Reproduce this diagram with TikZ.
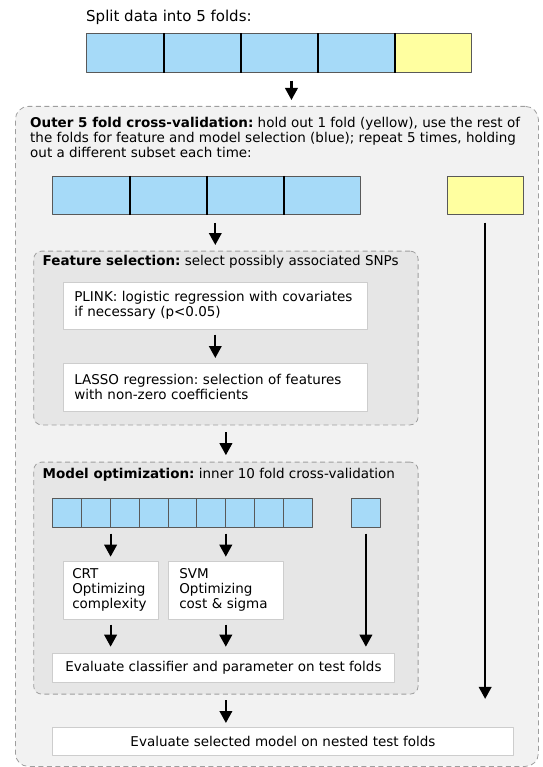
\documentclass[tikz,border=0pt]{standalone}
\usepackage{fontspec}
\setmainfont{DejaVu Sans}
\usetikzlibrary{arrows.meta}
\definecolor{foldblue}{RGB}{166,218,248}
\definecolor{foldyellow}{RGB}{255,255,160}
\definecolor{outerfill}{RGB}{242,242,242}
\definecolor{innerfill}{RGB}{230,230,230}
\definecolor{dashgray}{RGB}{158,158,158}
\definecolor{boxgray}{RGB}{205,205,205}
\tikzset{
  fold/.style={draw=black!65, line width=0.9pt, fill=foldblue, inner sep=0pt, anchor=north west, minimum width=77pt, minimum height=38.3pt},
  divider/.style={draw=black, line width=1.6pt},
  arr/.style={-{Triangle[length=12pt,width=12.5pt]}, line width=2.2pt},
  outerbox/.style={draw=dashgray, fill=outerfill, line width=0.8pt, dash pattern=on 5pt off 3.5pt, rounded corners=13pt, inner sep=0pt, anchor=north west},
  innerbox/.style={outerbox, fill=innerfill, rounded corners=8pt},
  textbox/.style={draw=boxgray, fill=white, line width=0.6pt, anchor=north west, align=left, inner ysep=0pt},
}
\frenchspacing
\begin{document}
\begin{tikzpicture}[x=1pt,y=-1pt, line join=round, font=\fontsize{13.5}{15}\selectfont]
	\useasboundingbox (0,0) rectangle (542,767);
	% containers
	\node[outerbox, minimum width=523pt, minimum height=660pt] (outer) at (15,106) {};
	\node[innerbox, minimum width=384.4pt, minimum height=173.8pt] (feat) at (33.3,250.7) {};
	\node[innerbox, minimum width=384.4pt, minimum height=232pt] (model) at (33.3,461.7) {};
	% titles
	\node (split) at (86,17.5) [anchor=west, inner sep=0pt, font=\fontsize{15}{16}\selectfont] {Split data into 5 folds:};
	\node (outertitle) at (30,137.5) [anchor=west, align=left, inner sep=0pt] {\textbf{Outer 5 fold cross-validation:} hold out 1 fold (yellow), use the rest of\\the folds for feature and model selection (blue); repeat 5 times, holding\\out a different subset each time:};
	\node (feattitle) at (42.5,261.7) [anchor=west, inner sep=0pt] {\textbf{Feature selection:} select possibly associated SNPs};
	\node (modeltitle) at (42.5,475) [anchor=west, inner sep=0pt] {\textbf{Model optimization:} inner 10 fold cross-validation};
	% all data: 5 folds
	\foreach \i in {0,...,3} \node[fold] (top\i) at ({86+77*\i},33.4) {};
	\node[fold, fill=foldyellow] (top4) at (394,33.4) {};
	\foreach \i in {0,...,3} \draw[divider] (top\i.north east) -- (top\i.south east);
	% outer training folds and held-out fold
	\foreach \i in {0,...,3} \node[fold, minimum height=38pt] (mid\i) at ({52.3+77*\i},176) {};
	\foreach \i in {0,...,2} \draw[divider] (mid\i.north east) -- (mid\i.south east);
	\node[fold, fill=foldyellow, minimum width=76pt, minimum height=38pt] (hold) at (446.7,176) {};
	% feature selection
	\node[textbox, minimum width=304pt, minimum height=47.3pt, text width=282pt, inner xsep=11pt] (plink) at (63,281.7) {PLINK: logistic regression with covariates\\if necessary (p<0.05)};
	\node[textbox, minimum width=304pt, minimum height=48pt, text width=282pt, inner xsep=11pt] (lasso) at (63,362.7) {LASSO regression: selection of features\\with non-zero coefficients};
	% model optimization
	\foreach \i in {0,...,8} \node[fold, minimum width=28.8pt, minimum height=29pt, line width=0.8pt] (inn\i) at ({52.3+28.8*\i},497.7) {};
	\node[fold, minimum width=29pt, minimum height=29pt, line width=0.8pt] (test) at (351,497.7) {};
	\node[textbox, minimum width=94.6pt, minimum height=58.6pt, text width=76.6pt, inner xsep=9pt] (crt) at (63,560.7) {CRT\\Optimizing\\complexity};
	\node[textbox, minimum width=115pt, minimum height=58.6pt, text width=93pt, inner xsep=11pt] (svm) at (168,560.7) {SVM\\Optimizing\\cost \& sigma};
	\node[textbox, align=center, minimum width=341.7pt, minimum height=29pt] (evalc) at (52.3,653) {Evaluate classifier and parameter on test folds};
	\node[textbox, align=center, minimum width=460.7pt, minimum height=28pt] (final) at (52.3,727) {Evaluate selected model on nested test folds};
	% connectors
	\coordinate (s1) at ([xshift=12.5pt,yshift=-8pt]top2.south);
	\draw[arr, shorten >=6pt] (s1) -- (s1 |- outer.north);
	\coordinate (s2) at ([yshift=-8pt]plink.north |- mid2.south);
	\draw[arr, shorten >=5.7pt] (s2) -- (plink.north |- feat.north);
	\draw[arr, shorten <=5pt, shorten >=4.7pt] (plink.south) -- (lasso.north);
	\draw[arr, shorten <=7pt, shorten >=6.5pt] (feat.south) -- (model.north);
	\draw[arr, shorten <=6pt, shorten >=4pt] (crt.north |- inn1.south) -- (crt.north);
	\draw[arr, shorten <=6pt, shorten >=4pt] (svm.north |- inn5.south) -- (svm.north);
	\draw[arr, shorten <=6pt, shorten >=6.3pt] (test.south) -- (test.south |- evalc.north);
	\draw[arr, shorten <=4.7pt, shorten >=6.3pt] (crt.south) -- (crt.south |- evalc.north);
	\draw[arr, shorten <=4.7pt, shorten >=6.3pt] (svm.south) -- (svm.south |- evalc.north);
	\draw[arr, shorten <=5.5pt, shorten >=4pt] (model.south) -- (model.south |- final.north);
	\coordinate (holdend) at ([yshift=-484pt]hold.south);
	\draw[arr, shorten <=7.7pt] (hold.south) -- (holdend);
\end{tikzpicture}
\end{document}
